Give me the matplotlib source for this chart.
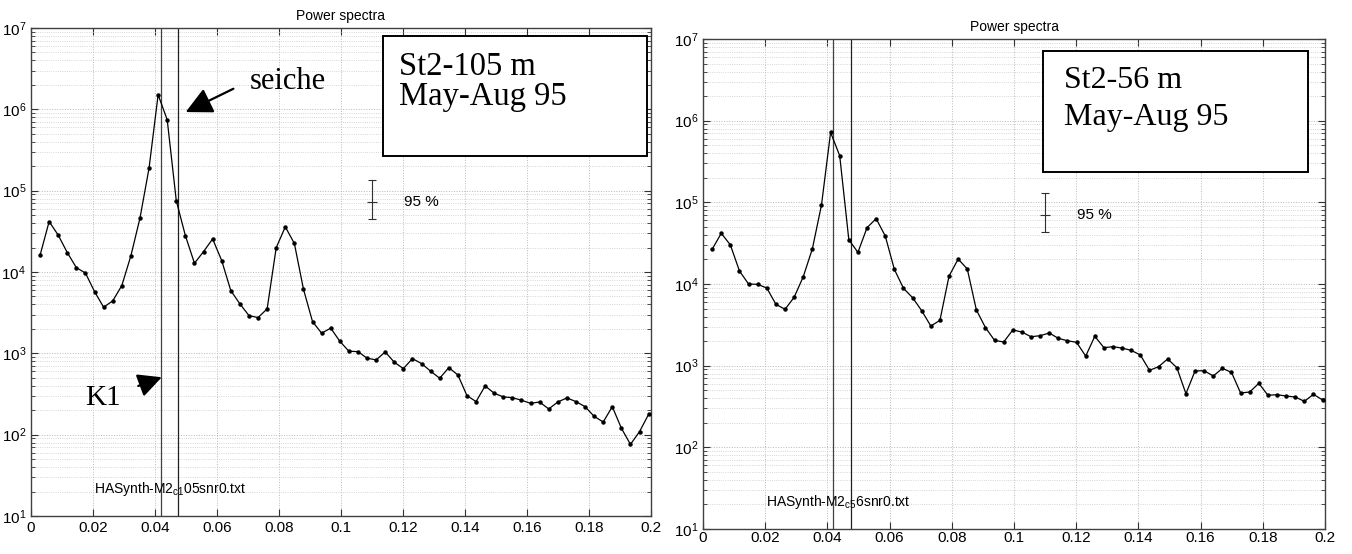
import numpy as np
import matplotlib
matplotlib.use("Agg")
from matplotlib import pyplot as plt
from matplotlib.patches import Rectangle
from matplotlib.ticker import FixedLocator, NullFormatter

plt.rcParams['font.family'] = ['Liberation Sans', 'DejaVu Sans']
plt.rcParams['mathtext.default'] = 'regular'

# frequency grid (cph), 68 spectral estimates
df = 0.00293
freq = np.arange(1, 69) * df

# St2-105 m
power_105 = [16000, 41700, 28400, 17300, 11300, 9700, 5740, 3690, 4410, 6800,
             15800, 45900, 189000, 1510000, 743000, 75000, 28000, 12800, 17800, 25500,
             13800, 5900, 4060, 2910, 2750, 3520, 19900, 35900, 22400, 6140,
             2450, 1770, 2040, 1410, 1060, 1050, 871, 830, 1040, 777,
             649, 861, 748, 603, 494, 667, 542, 302, 255, 397,
             323, 291, 285, 265, 243, 252, 207, 252, 283, 255,
             221, 168, 143, 221, 120, 76, 109, 178]

# St2-56 m
power_56 = [26600, 41800, 30100, 14400, 10000, 9900, 8930, 5640, 4900, 6880,
            12300, 27000, 92700, 719000, 372000, 34900, 24400, 49000, 63100, 38700,
            15100, 8850, 6800, 4710, 3060, 3590, 12500, 20200, 15300, 4810,
            2920, 2040, 1950, 2740, 2580, 2260, 2330, 2510, 2160, 2020,
            1930, 1310, 2290, 1660, 1710, 1640, 1540, 1350, 877, 972,
            1210, 945, 454, 861, 868, 747, 927, 828, 463, 476,
            608, 434, 441, 425, 413, 366, 446, 380]

k1_freq = 0.0418
seiche_freq = 0.0475

# 95 % confidence bar: (x, low, mid, high)
ci_105 = (0.110, 45000, 72800, 134600)
ci_56 = (0.110, 43600, 69300, 131200)

labels_105 = ['St2-105 m', 'May-Aug 95']
labels_56 = ['St2-56 m', 'May-Aug 95']
file_105 = 'HASynth-M2$_{c1}$05snr0.txt'
file_56 = 'HASynth-M2$_{c5}$6snr0.txt'

xticks = [0, 0.02, 0.04, 0.06, 0.08, 0.1, 0.12, 0.14, 0.16, 0.18, 0.2]
xticklabels = ['0', '0.02', '0.04', '0.06', '0.08', '0.1',
               '0.12', '0.14', '0.16', '0.18', '0.2']
yticks = [1e1, 1e2, 1e3, 1e4, 1e5, 1e6, 1e7]
yticklabels = ['$10^{1}$', '$10^{2}$', '$10^{3}$', '$10^{4}$',
               '$10^{5}$', '$10^{6}$', '$10^{7}$']


def setup_axes(ax, xpad):
    ax.set_yscale('log')
    ax.set_xlim(0, 0.2)
    ax.set_ylim(10, 1e7)
    ax.set_xticks(xticks)
    ax.set_xticklabels(xticklabels)
    ax.set_yticks(yticks)
    ax.set_yticklabels(yticklabels)
    minors = [m * 10.0 ** e for e in range(1, 7) for m in range(2, 10)]
    ax.yaxis.set_minor_locator(FixedLocator(minors))
    ax.yaxis.set_minor_formatter(NullFormatter())
    ax.grid(True, which='major', color='#b8b8b8', linestyle=':', linewidth=0.7)
    ax.grid(True, which='minor', axis='y', color='#c8c8c8', linestyle=':', linewidth=0.6)
    ax.tick_params(which='both', direction='in', top=True, right=True,
                   labelsize=11, color='#303030')
    ax.tick_params(axis='x', pad=xpad)
    ax.tick_params(which='major', length=5)
    ax.tick_params(which='minor', length=3)
    for s in ax.spines.values():
        s.set_color('#404040')
        s.set_linewidth(1.0)
    ax.set_title('Power spectra', fontsize=10, pad=6)


def draw_panel(ax, power, ci, labels, fname, box, text_x, text_y, fs, xpad):
    setup_axes(ax, xpad)
    ax.plot(freq, power, color='k', lw=0.9, marker='o', ms=2.2, zorder=3)
    ax.axvline(k1_freq, color='#404040', lw=0.9, zorder=2)
    ax.axvline(seiche_freq, color='#202020', lw=0.9, zorder=2)
    x, lo, mid, hi = ci
    ax.errorbar([x], [mid], yerr=[[mid - lo], [hi - mid]], color='#303030',
                lw=0.8, capsize=3, capthick=0.8, marker='_', ms=7, mew=0.8)
    ax.text(x + 0.0103, mid, '95 %', fontsize=11, va='center', ha='left')
    ax.text(0.0204, 21.3, fname, fontsize=10, va='center', ha='left')
    x0, y0, x1, y1 = box
    ax.add_patch(Rectangle((x0, y0), x1 - x0, y1 - y0, transform=ax.transAxes,
                           facecolor='white', edgecolor='k', lw=1.4, zorder=5))
    for lab, ty in zip(labels, text_y):
        ax.text(text_x, ty, lab, transform=ax.transAxes, fontsize=fs,
                family='Liberation Serif', va='center', ha='left', zorder=6)


fig = plt.figure(figsize=(13.52, 5.54), dpi=100)
ax1 = fig.add_axes([0.0229, 0.0686, 0.4586, 0.8809])
ax2 = fig.add_axes([0.5200, 0.0451, 0.4600, 0.8845])

draw_panel(ax1, power_105, ci_105, labels_105, file_105,
           (0.567, 0.738, 0.993, 0.984), 0.594, (0.921, 0.859), 23.5, 3.5)
draw_panel(ax2, power_56, ci_56, labels_56, file_56,
           (0.547, 0.729, 0.973, 0.976), 0.581, (0.916, 0.840), 23, 1.5)

# annotations on the left panel
ax1.annotate('', xy=(0.0499, 9.25e5), xytext=(0.0653, 1.79e6),
             arrowprops=dict(arrowstyle='-|>,head_length=0.9,head_width=0.45',
                             color='k', lw=1.6, mutation_scale=18, shrinkA=0, shrinkB=0))
ax1.text(0.0706, 2.18e6, 'seiche', fontsize=22, family='Liberation Serif',
         va='center', ha='left')
ax1.annotate('', xy=(0.0422, 508), xytext=(0.0346, 397),
             arrowprops=dict(arrowstyle='-|>,head_length=0.9,head_width=0.45',
                             color='k', lw=1.6, mutation_scale=16, shrinkA=0, shrinkB=0))
ax1.text(0.0174, 281, 'K1', fontsize=21, family='Liberation Serif',
         va='center', ha='left')

fig.savefig('out.png', dpi=100)
